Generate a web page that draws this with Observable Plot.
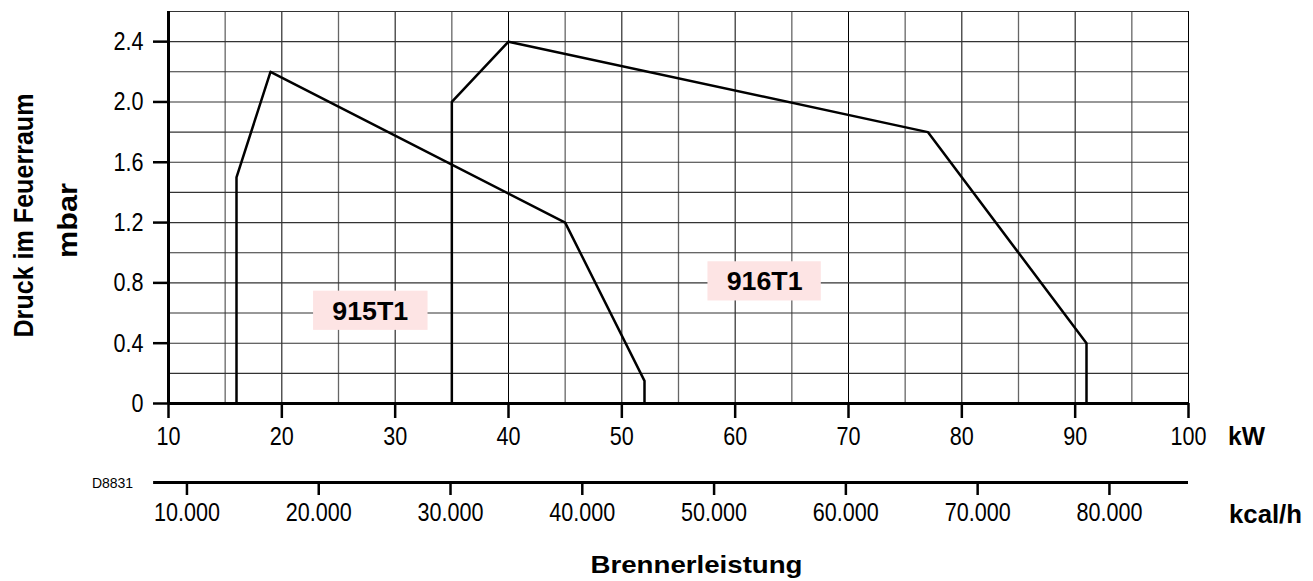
<!DOCTYPE html>
<html>
<head>
<meta charset="utf-8">
<script src="https://cdn.jsdelivr.net/npm/d3@7"></script>
<script src="https://cdn.jsdelivr.net/npm/@observablehq/plot@0.6"></script>
<style>
  body { margin: 0; background: #fff; }
</style>
</head>
<body>
<div id="chart"></div>
<script>
// ---- data ----
const kW915 = [16, 16, 19, 45, 52, 52];
const mbar915 = [0, 1.5, 2.2, 1.2, 0.15, 0];
const kW916 = [35, 35, 40, 77, 91, 91];
const mbar916 = [0, 2.0, 2.4, 1.8, 0.4, 0];

const seriesNames = ["915T1", "916T1"];
const labelKW = [27.8, 62.6];
const labelMbar = [0.61, 0.81];
const labelBoxKW1 = [22.8, 57.6];
const labelBoxKW2 = [32.9, 67.6];
const labelBoxMbar1 = [0.485, 0.68];
const labelBoxMbar2 = [0.745, 0.94];

const kWTicks = [10, 20, 30, 40, 50, 60, 70, 80, 90, 100];
const mbarTicks = [0, 0.4, 0.8, 1.2, 1.6, 2.0, 2.4];
const mbarTickLabels = ["0", "0.4", "0.8", "1.2", "1.6", "2.0", "2.4"];
const kcalTicks = [10000, 20000, 30000, 40000, 50000, 60000, 70000, 80000];
const kcalTickLabels = ["10.000", "20.000", "30.000", "40.000", "50.000", "60.000", "70.000", "80.000"];
const kcalPerKW = 860;
const kcalAxisExtent = [7470, 86000];

const gridKW = [15, 20, 25, 30, 35, 40, 45, 50, 55, 60, 65, 70, 75, 80, 85, 90, 95, 100];
const gridMbar = [0.2, 0.4, 0.6, 0.8, 1.0, 1.2, 1.4, 1.6, 1.8, 2.0, 2.2, 2.4, 2.6];

const yTitle = "Druck im Feuerraum";
const yUnit = "mbar";
const xTitle = "Brennerleistung";
const xUnit = "kW";
const x2Unit = "kcal/h";
const docCode = "D8831";

// ---- tables ----
const rows915 = kW915.map((k, i) => ({kW: k, mbar: mbar915[i]}));
const rows916 = kW916.map((k, i) => ({kW: k, mbar: mbar916[i]}));
const labels = seriesNames.map((n, i) => ({
  name: n, x: labelKW[i], y: labelMbar[i],
  x1: labelBoxKW1[i], x2: labelBoxKW2[i], y1: labelBoxMbar1[i], y2: labelBoxMbar2[i]
}));
const kcalPos = kcalTicks.map(k => k / kcalPerKW);

const font = "'Liberation Sans', Arial, Helvetica, sans-serif";
const centered = {textAnchor: "middle", lineAnchor: "middle"};

const plot = Plot.plot({
  width: 1313,
  height: 581,
  marginLeft: 168,
  marginRight: 125,
  marginTop: 11,
  marginBottom: 178,
  x: {domain: [10, 100]},
  y: {domain: [0, 2.6]},
  style: {fontFamily: font, background: "#fff", color: "#000"},
  marks: [
    Plot.ruleX(gridKW, {stroke: d => d % 10 === 0 ? "#000" : "#666", strokeWidth: d => d % 10 === 0 ? 1 : 1.3}),
    Plot.ruleY(gridMbar, {stroke: "#333", strokeWidth: 1.1}),
    Plot.rect(labels, {x1: "x1", x2: "x2", y1: "y1", y2: "y2", fill: "#fde4e4"}),
    Plot.line(rows915, {x: "kW", y: "mbar", stroke: "#000", strokeWidth: 2.5}),
    Plot.line(rows916, {x: "kW", y: "mbar", stroke: "#000", strokeWidth: 2.5}),
    Plot.text(labels, {x: "x", y: "y", text: "name", fontSize: 26, fontWeight: "bold", fill: "#000"}),
    Plot.ruleX([10], {stroke: "#000", strokeWidth: 3}),
    Plot.ruleY([0], {stroke: "#000", strokeWidth: 3}),
    Plot.axisY(mbarTicks, {
      tickFormat: d => mbarTickLabels[mbarTicks.indexOf(d)],
      tickSize: 15, tickPadding: 10, strokeWidth: 2.5, fontSize: 26, label: null
    }),
    Plot.axisX(kWTicks, {tickSize: 15, tickPadding: 8, strokeWidth: 2.5, fontSize: 26, label: null}),
    Plot.ruleY([0], {x1: kcalAxisExtent[0] / kcalPerKW, x2: kcalAxisExtent[1] / kcalPerKW, dy: 79, stroke: "#000", strokeWidth: 3}),
    Plot.axisX(kcalPos, {
      tickFormat: d => kcalTickLabels[kcalPos.indexOf(d)],
      dy: 79, tickSize: 13, tickPadding: 7, strokeWidth: 2.5, fontSize: 26, label: null
    }),
    Plot.text([yTitle], {frameAnchor: "left", rotate: -90, dx: -144, dy: 8, fontSize: 28, fontWeight: "bold", ...centered}),
    Plot.text([yUnit], {frameAnchor: "left", rotate: -90, dx: -100, dy: 13, fontSize: 28, fontWeight: "bold", ...centered}),
    Plot.text([xTitle], {frameAnchor: "bottom", dx: 18, dy: 162, fontSize: 24, fontWeight: "bold", ...centered}),
    Plot.text([xUnit], {frameAnchor: "bottom-right", dx: 58, dy: 33, fontSize: 25, fontWeight: "bold", ...centered}),
    Plot.text([x2Unit], {frameAnchor: "bottom-right", dx: 77, dy: 111, fontSize: 25, fontWeight: "bold", ...centered}),
    Plot.text([docCode], {frameAnchor: "bottom-left", dx: -56, dy: 80, fontSize: 14, ...centered})
  ]
});

document.getElementById("chart").appendChild(plot);

// horizontal glyph widths as in the original drawing
const textLengths = new Map([
  [yTitle, 244], [yUnit, 75], [xTitle, 212], [xUnit, 37], [x2Unit, 73],
  ["915T1", 76], ["916T1", 76]
]);
plot.querySelectorAll("text").forEach(t => {
  const L = textLengths.get(t.textContent);
  if (L) {
    t.setAttribute("textLength", L);
    t.setAttribute("lengthAdjust", "spacingAndGlyphs");
  }
});
// condensed tick numerals
plot.querySelectorAll('[aria-label$="tick label"] text').forEach(t => {
  const w = t.getComputedTextLength();
  t.setAttribute("textLength", (w * 0.83).toFixed(1));
  t.setAttribute("lengthAdjust", "spacingAndGlyphs");
});
</script>
</body>
</html>
